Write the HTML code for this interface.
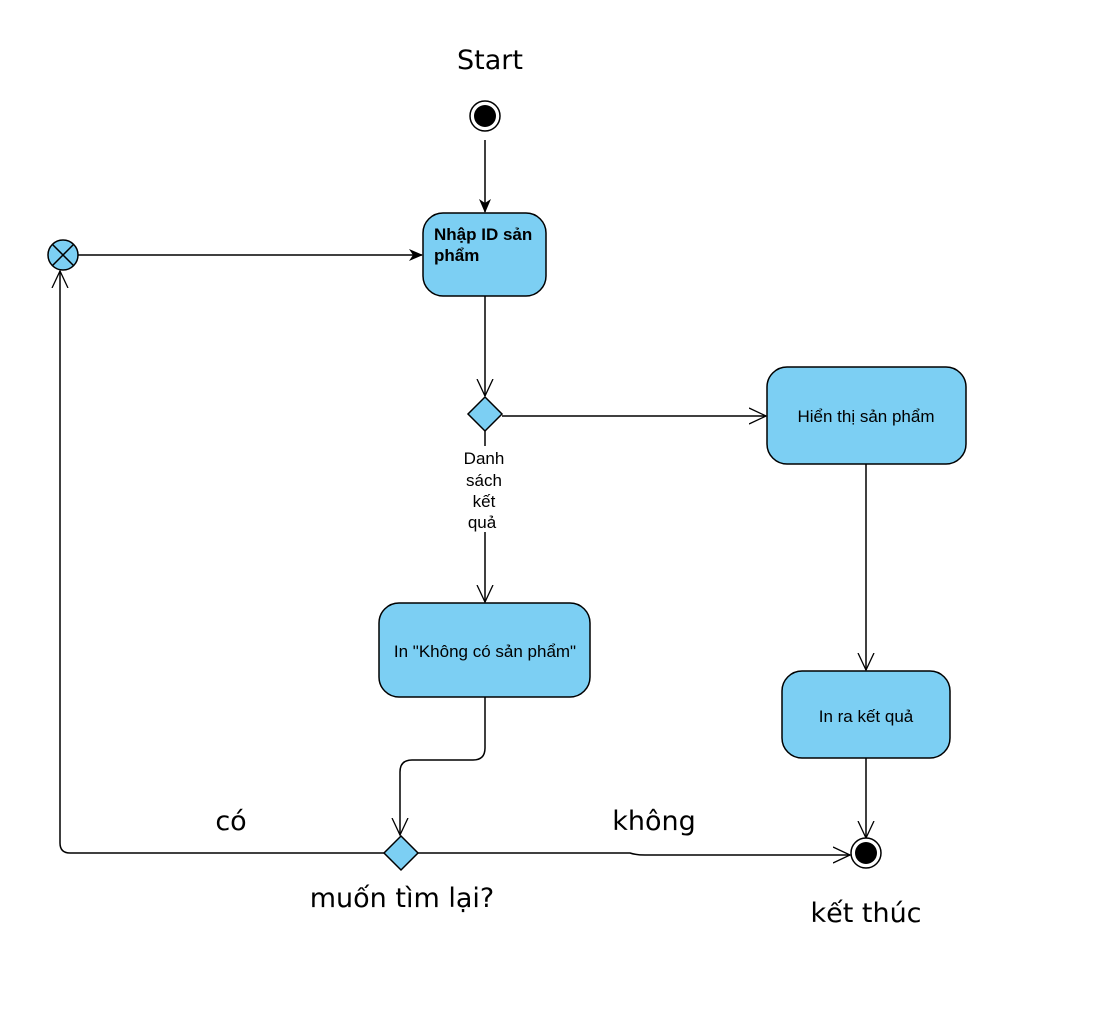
<!DOCTYPE html>
<html><head><meta charset="utf-8"><style>
html,body{margin:0;padding:0;background:#fff;}
svg{display:block;}
.big{font-family:"DejaVu Sans","Liberation Sans",sans-serif;font-size:27px;fill:#000;}
.sm{font-family:"Liberation Sans",sans-serif;font-size:17px;fill:#000;}
</style></head><body>
<svg width="1100" height="1012" viewBox="0 0 1100 1012" xmlns="http://www.w3.org/2000/svg">
<defs>
<marker id="fa" viewBox="0 0 14 12" refX="13" refY="6" markerWidth="14" markerHeight="12" markerUnits="userSpaceOnUse" orient="auto"><path d="M0,0 L14,6 L0,12 L4,6 Z" fill="#000"/></marker>
<marker id="oa" viewBox="0 0 18 18" refX="17" refY="9" markerWidth="18" markerHeight="18" markerUnits="userSpaceOnUse" orient="auto"><path d="M0,1 L17,9 L0,17" fill="none" stroke="#000" stroke-width="1.3"/></marker>
</defs>
<g stroke="#000" stroke-width="1.5" fill="none">
<line x1="485" y1="140" x2="485" y2="212" marker-end="url(#fa)"/>
<line x1="78" y1="255" x2="422" y2="255" marker-end="url(#fa)"/>
<line x1="485" y1="296" x2="485" y2="396" marker-end="url(#oa)"/>
<line x1="502" y1="416" x2="766" y2="416" marker-end="url(#oa)"/>
<line x1="485" y1="431" x2="485" y2="602" marker-end="url(#oa)"/>
<path d="M485,697 L485,748 Q485,760 473,760 L412,760 Q400,760 400,772 L400,835" marker-end="url(#oa)"/>
<path d="M384,853 L70,853 Q60,853 60,843 L60,271" marker-end="url(#oa)"/>
<path d="M418,853 L630,853 Q636,855 645,855 L850,855" marker-end="url(#oa)"/>
<line x1="866" y1="464" x2="866" y2="670" marker-end="url(#oa)"/>
<line x1="866" y1="758" x2="866" y2="838" marker-end="url(#oa)"/>
</g>
<circle cx="485" cy="116" r="15" fill="#fff" stroke="#000" stroke-width="1.5"/>
<circle cx="485" cy="116" r="11" fill="#000"/>
<circle cx="866" cy="853" r="15" fill="#fff" stroke="#000" stroke-width="1.5"/>
<circle cx="866" cy="853" r="11" fill="#000"/>
<circle cx="63" cy="255" r="15" fill="#7ccff3" stroke="#000" stroke-width="1.5"/>
<path d="M52.4,244.4 L73.6,265.6 M73.6,244.4 L52.4,265.6" stroke="#000" stroke-width="1.5"/>
<g fill="#7ccff3" stroke="#000" stroke-width="1.5">
<rect x="423" y="213" width="123" height="83" rx="20"/>
<rect x="767" y="367" width="199" height="97" rx="20"/>
<rect x="379" y="603" width="211" height="94" rx="20"/>
<rect x="782" y="671" width="168" height="87" rx="20"/>
<path d="M485,397 L502,414 L485,431 L468,414 Z"/>
<path d="M401,836 L418,853 L401,870 L384,853 Z"/>
</g>
<text class="big" x="490" y="69" text-anchor="middle">Start</text>
<text class="sm" x="434" y="240" font-weight="bold">Nhập ID sản</text>
<text class="sm" x="434" y="261" font-weight="bold">phẩm</text>
<text class="sm" x="866" y="422" text-anchor="middle">Hiển thị sản phẩm</text>
<text class="sm" x="485" y="657" text-anchor="middle">In "Không có sản phẩm"</text>
<text class="sm" x="866" y="722" text-anchor="middle">In ra kết quả</text>
<g class="sm" text-anchor="middle">
<rect x="458" y="446" width="52" height="86" fill="#fff"/>
<text x="484" y="464">Danh</text>
<text x="484" y="486">sách</text>
<text x="484" y="507">kết</text>
<text x="482" y="528">quả</text>
</g>
<text class="big" x="231" y="830" text-anchor="middle">có</text>
<text class="big" x="654" y="830" text-anchor="middle">không</text>
<text class="big" x="402" y="907" text-anchor="middle">muốn tìm lại?</text>
<text class="big" x="866" y="922" text-anchor="middle">kết thúc</text>
</svg>
</body></html>
